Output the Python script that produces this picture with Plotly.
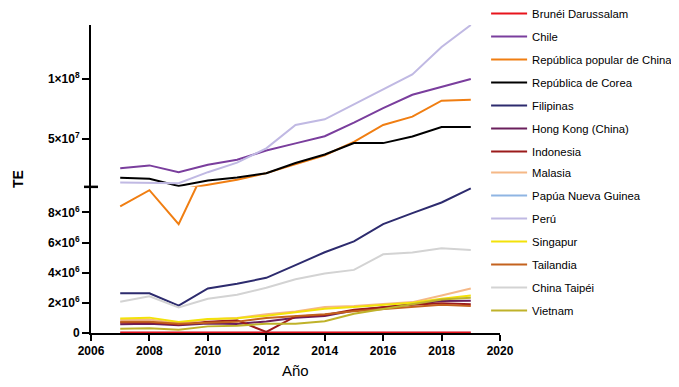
import plotly.graph_objects as go

years = [2007, 2008, 2009, 2010, 2011, 2012, 2013, 2014, 2015, 2016, 2017, 2018, 2019]

countries = ["Brunéi Darussalam", "Chile", "República popular de China", "República de Corea",
             "Filipinas", "Hong Kong (China)", "Indonesia", "Malasia", "Papúa Nueva Guinea",
             "Perú", "Singapur", "Tailandia", "China Taipéi", "Vietnam"]

brunei = [40000, 40000, 40000, 40000, 40000, 40000, 40000, 40000, 40000, 40000, 40000, 40000, 40000]
chile = [2.54e7, 2.77e7, 2.2e7, 2.83e7, 3.25e7, 4.02e7, 4.62e7, 5.22e7, 6.36e7, 7.58e7, 8.7e7, 9.38e7, 1.002e8]
china = [8.4e6, 9.48e6, 7.23e6, 1.13e7, 1.56e7, 2.12e7, 2.88e7, 3.62e7, 4.75e7, 6.16e7, 6.86e7, 8.2e7, 8.28e7]
corea = [1.73e7, 1.65e7, 1.05e7, 1.5e7, 1.75e7, 2.12e7, 2.97e7, 3.68e7, 4.64e7, 4.64e7, 5.2e7, 5.99e7, 5.99e7]
filipinas = [2.64e6, 2.64e6, 1.81e6, 2.96e6, 3.27e6, 3.66e6, 4.5e6, 5.36e6, 6.08e6, 7.23e6, 7.96e6, 8.66e6, 9.6e6]
hongkong = [5.75e5, 6.2e5, 5.1e5, 6.3e5, 6.0e5, 7.7e5, 1.02e6, 1.12e6, 1.5e6, 1.72e6, 1.9e6, 2.12e6, 2.14e6]
indonesia = [6.9e5, 7.2e5, 5.6e5, 7.5e5, 8.4e5, 7e4, 1.1e6, 1.2e6, 1.55e6, 1.72e6, 1.88e6, 1.98e6, 1.9e6]
malasia = [8.8e5, 9.0e5, 6.5e5, 9.0e5, 1.0e6, 1.24e6, 1.43e6, 1.72e6, 1.79e6, 1.94e6, 2.05e6, 2.49e6, 2.96e6]
png = [20000, 20000, 20000, 20000, 20000, 20000, 20000, 20000, 20000, 20000, 20000, 20000, 20000]
peru = [1.33e7, 1.33e7, 1.27e7, 2.2e7, 3.0e7, 4.2e7, 6.16e7, 6.64e7, 7.9e7, 9.13e7, 1.04e8, 1.27e8, 1.455e8]
singapur = [9.7e5, 1.02e6, 7.3e5, 9.3e5, 9.8e5, 1.15e6, 1.38e6, 1.61e6, 1.72e6, 1.88e6, 2.0e6, 2.27e6, 2.49e6]
tailandia = [7.5e5, 7.5e5, 6.2e5, 7.0e5, 7.5e5, 1.0e6, 1.1e6, 1.25e6, 1.45e6, 1.61e6, 1.72e6, 1.88e6, 1.79e6]
taipei = [2.07e6, 2.43e6, 1.7e6, 2.27e6, 2.54e6, 3.0e6, 3.57e6, 3.95e6, 4.19e6, 5.22e6, 5.34e6, 5.62e6, 5.51e6]
vietnam = [2.9e5, 3.1e5, 2.2e5, 4.4e5, 4.8e5, 6.2e5, 6.2e5, 7.8e5, 1.28e6, 1.61e6, 1.9e6, 2.23e6, 2.34e6]

series = [brunei, chile, china, corea, filipinas, hongkong, indonesia, malasia, png,
          peru, singapur, tailandia, taipei, vietnam]

colors = ["#e8141c", "#7a3e9d", "#f07e12", "#000000", "#2d2b6e", "#6a1f5c", "#9b1b1b",
          "#f5b886", "#8fb5e3", "#c0b9e3", "#f3e20a", "#c4621e", "#d3d3d3", "#bfb22a"]

# drawing order (Papúa Nueva Guinea hidden beneath Brunéi)
draw_order = [8, 0, 1, 2, 3, 4, 5, 6, 7, 9, 10, 11, 12, 13]

lower_range = [0, 9.7e6]
upper_range = [9.7e6, 1.455e8]
brk = 0.4745

lower_ticks = [0, 2e6, 4e6, 6e6, 8e6]
lower_text = ["0", "2×10<sup>6</sup>", "4×10<sup>6</sup>", "6×10<sup>6</sup>", "8×10<sup>6</sup>"]
upper_ticks = [5e7, 1e8]
upper_text = ["5×10<sup>7</sup>", "1×10<sup>8</sup>"]
x_ticks = [2006, 2008, 2010, 2012, 2014, 2016, 2018, 2020]


def segment_part(vals, lo, hi):
    """Keep points inside [lo, hi] plus their direct neighbours (so lines crossing
    the axis break are drawn); other points are left out of this axis segment."""
    inside = [lo <= v <= hi for v in vals]
    out = []
    for k, v in enumerate(vals):
        near = inside[k] or (k > 0 and inside[k - 1]) or (k < len(vals) - 1 and inside[k + 1])
        out.append(v if near else None)
    return out


fig = go.Figure()
for i in draw_order:
    first = True
    for axis, rng in (("y", lower_range), ("y2", upper_range)):
        part = segment_part(series[i], rng[0], rng[1])
        if all(p is None for p in part):
            continue
        fig.add_trace(go.Scatter(
            x=years, y=part, mode="lines", name=countries[i],
            line=dict(color=colors[i], width=2), connectgaps=False,
            xaxis="x", yaxis=axis, legendgroup=countries[i], showlegend=first,
            legend="legend" if i < 7 else "legend2",
            legendrank=i + 1, hoverinfo="skip"))
        first = False

tickfont = dict(family="Liberation Sans, Arial", size=12, color="black", weight="bold")
legend_common = dict(x=0.966, xanchor="left", yanchor="top",
                     font=dict(size=11.3, color="black"), tracegroupgap=4, itemwidth=36,
                     bgcolor="rgba(0,0,0,0)")
fig.update_layout(
    width=679, height=387,
    margin=dict(l=83, r=187, t=17, b=62, autoexpand=False),
    plot_bgcolor="white", paper_bgcolor="white",
    font=dict(family="Liberation Sans, Arial", color="black"),
    showlegend=True,
    legend=dict(y=1.0845, **legend_common),
    legend2=dict(y=0.5678, **legend_common),
    xaxis=dict(range=[2006, 2020], tickvals=x_ticks, showgrid=False, zeroline=False,
               showline=True, linecolor="black", linewidth=2, ticks="outside",
               ticklen=6, tickwidth=2, tickcolor="black", tickfont=tickfont,
               anchor="y", layer="below traces"),
    yaxis=dict(domain=[0, brk], range=lower_range, tickvals=lower_ticks, ticktext=lower_text,
               showgrid=False, zeroline=False, showline=True, linecolor="black", linewidth=2,
               ticks="outside", ticklen=7, tickwidth=2, tickcolor="black", tickfont=tickfont,
               anchor="x"),
    yaxis2=dict(domain=[brk, 1], range=upper_range, tickvals=upper_ticks, ticktext=upper_text,
                showgrid=False, zeroline=False, showline=True, linecolor="black", linewidth=2,
                ticks="outside", ticklen=7, tickwidth=2, tickcolor="black", tickfont=tickfont,
                anchor="x"),
    shapes=[dict(type="line", xref="paper", yref="paper", xsizemode="pixel", xanchor=0,
                 x0=-7, x1=7, y0=brk, y1=brk, line=dict(color="black", width=2.5))],
    annotations=[
        dict(text="<b>TE</b>", xref="paper", yref="paper", x=0, y=0.5, xshift=-73,
             textangle=-90, showarrow=False, font=dict(size=14, color="black"),
             xanchor="center", yanchor="middle"),
        dict(text="Año", xref="paper", yref="paper", x=0.5, y=0, yshift=-37,
             showarrow=False, font=dict(size=15, color="black"),
             xanchor="center", yanchor="middle"),
    ],
)

fig.write_html("out.html")
